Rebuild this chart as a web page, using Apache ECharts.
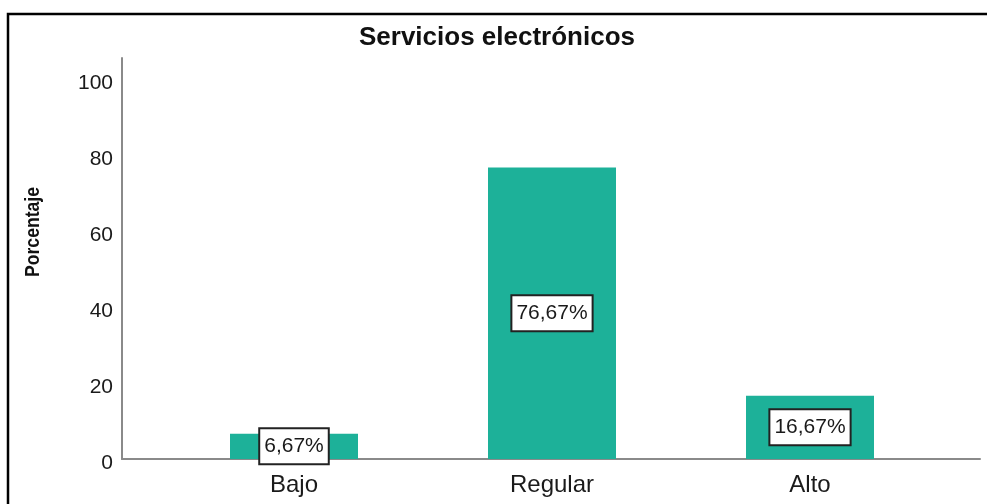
<!DOCTYPE html>
<html>
<head>
<meta charset="utf-8">
<script src="https://cdn.jsdelivr.net/npm/echarts@6/dist/echarts.min.js"></script>
<style>
  html, body { margin: 0; padding: 0; background: #fff; }
  #chart { width: 987px; height: 504px; }
</style>
</head>
<body>
<div id="chart"></div>
<script>
// Percentages per level of electronic services
const categories = ['Bajo', 'Regular', 'Alto'];
const percentages = [6.67, 76.67, 16.67];
const yTicks = [0, 20, 40, 60, 80, 100];

const chart = echarts.init(document.getElementById('chart'), null, { renderer: 'canvas' });

const FONT = '"Liberation Sans", Arial, sans-serif';
const AXIS_GRAY = '#8a8a8a';
const BAR_COLOR = '#1db199';
const Y_MAX = 105.5;

function pctLabel(v) {
  return v.toFixed(2).replace('.', ',') + '%';
}

const option = {
  backgroundColor: '#ffffff',
  animation: false,
  grid: [
    // frame grid holding the visible axes
    { left: 122, right: 7, top: 58, bottom: 45 },
    // inner grid where the bars are placed
    { left: 165, right: 48, top: 58, bottom: 45 }
  ],
  xAxis: [
    {
      gridIndex: 0, type: 'value', min: 0, max: 1,
      axisLine: { show: true, onZero: false, lineStyle: { color: AXIS_GRAY, width: 2 } },
      axisTick: { show: false }, axisLabel: { show: false }, splitLine: { show: false }
    },
    {
      gridIndex: 1, type: 'category', data: categories,
      axisLine: { show: false }, axisTick: { show: false }, splitLine: { show: false },
      axisLabel: { color: '#1a1a1a', fontFamily: FONT, fontSize: 24, margin: 14 }
    }
  ],
  yAxis: [
    {
      gridIndex: 0, type: 'value', min: 0, max: Y_MAX, interval: 20,
      axisLine: { show: true, lineStyle: { color: AXIS_GRAY, width: 2 } },
      axisTick: { show: false }, splitLine: { show: false },
      axisLabel: {
        color: '#1a1a1a', fontFamily: FONT, fontSize: 21, margin: 9,
        verticalAlign: 'top', lineHeight: 9,
        formatter: function (v) { return yTicks.indexOf(v) >= 0 ? String(v) : ''; }
      }
    },
    {
      gridIndex: 1, type: 'value', min: 0, max: Y_MAX, interval: 20,
      axisLine: { show: false }, axisTick: { show: false },
      axisLabel: { show: false }, splitLine: { show: false }
    }
  ],
  series: [
    {
      type: 'bar',
      xAxisIndex: 1, yAxisIndex: 1,
      data: percentages,
      barWidth: 128,
      itemStyle: { color: BAR_COLOR },
      label: {
        show: true, position: 'inside',
        formatter: function (p) { return pctLabel(p.value); },
        color: '#1a1a1a', fontFamily: FONT, fontSize: 21, lineHeight: 23,
        backgroundColor: '#ffffff', borderColor: '#222222', borderWidth: 2,
        padding: [6, 4, 5, 4]
      }
    }
  ],
  graphic: [
    {
      type: 'rect', silent: true,
      shape: { x: 8, y: 14, width: 1100, height: 700 },
      style: { fill: 'none', stroke: '#000000', lineWidth: 2.5 }
    },
    {
      type: 'text', silent: true, x: 497, y: 38,
      style: {
        text: 'Servicios electrónicos', fontFamily: FONT, fontSize: 26, fontWeight: 'bold',
        fill: '#111111', align: 'center', verticalAlign: 'middle'
      }
    },
    {
      // vertical axis title, slightly condensed along its length
      type: 'text', silent: true, x: 33, y: 232, rotation: Math.PI / 2, scaleX: 0.88,
      style: {
        text: 'Porcentaje', fontFamily: FONT, fontSize: 20, fontWeight: 'bold',
        fill: '#111111', align: 'center', verticalAlign: 'middle'
      }
    }
  ]
};

chart.setOption(option);
</script>
</body>
</html>
